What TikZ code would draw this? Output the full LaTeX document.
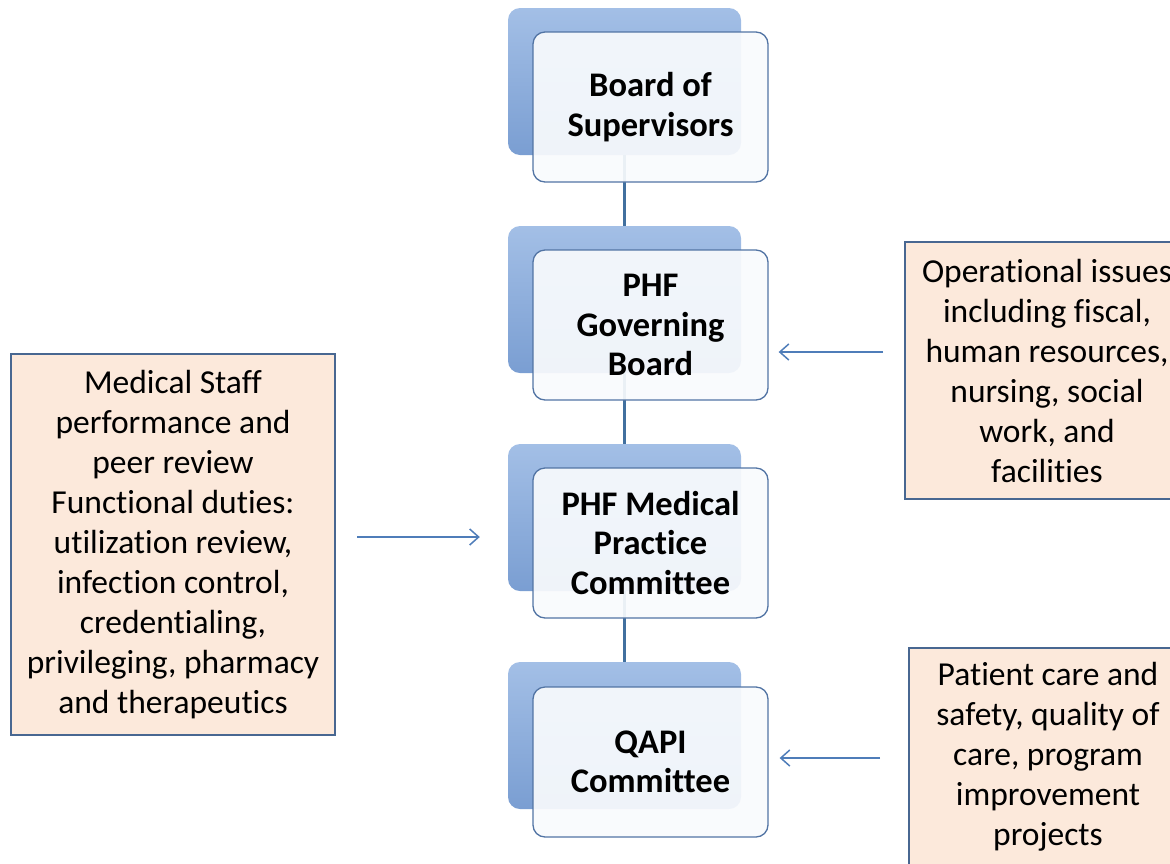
\documentclass[tikz,border=0pt]{standalone}
\usepackage{fontspec}
\setmainfont{Carlito}[RawFeature={-liga;-clig;-dlig;-calt}]
\usetikzlibrary{arrows.meta,calc}
\definecolor{backtop}{HTML}{A3BFE6}
\definecolor{backbot}{HTML}{7A9ED2}
\definecolor{frontfill}{HTML}{F9FBFD}
\definecolor{frontline}{HTML}{5274A4}
\definecolor{linkblue}{HTML}{41709F}
\definecolor{notefill}{HTML}{FCE9DB}
\definecolor{noteline}{HTML}{486791}
\definecolor{arrowblue}{HTML}{4F7DB9}
\begin{document}
\begin{tikzpicture}[x=1pt,y=-1pt,
  backbox/.style={rounded corners=12pt, minimum width=233pt, minimum height=147pt,
    top color=backtop, bottom color=backbot, draw=none, inner sep=0pt},
  frontbox/.style={rounded corners=12pt, minimum width=235pt, minimum height=150pt,
    fill=frontfill, fill opacity=0.92, text opacity=1, draw=frontline, line width=1.3pt,
    align=center, font=\bfseries\fontsize{34.5}{39.5}\selectfont, inner sep=0pt},
  note/.style={fill=notefill, draw=noteline, line width=1.8pt, align=center,
    font=\fontsize{33.5}{40}\selectfont, inner sep=0pt},
  link/.style={draw=linkblue, line width=3.5pt},
  feed/.style={draw=arrowblue, line width=1.5pt,
    -{Straight Barb[length=9pt,width=16pt,line width=1.5pt]}}
]
\useasboundingbox (0,0) rectangle (1170,863);
\clip (0,0) rectangle (1170,863);

% shaded back plates of the hierarchy
\node[backbox] (back1) at (624.5,81.5) {};
\node[backbox] (back2) at (624.5,299.5) {};
\node[backbox] (back3) at (624.5,517.5) {};
\node[backbox] (back4) at (624.5,735.5) {};

% vertical links between levels
\draw[link] (back1.south) -- (back2.north);
\draw[link] (back2.south) -- (back3.north);
\draw[link] (back3.south) -- (back4.north);

% front cards with the level names
\node[frontbox] (front1) at (650.5,107) {Board of\\Supervisors};
\node[frontbox] (front2) at (650.5,325) {PHF\\Governing\\Board};
\node[frontbox] (front3) at (650.5,543) {PHF Medical\\Practice\\Committee};
\node[frontbox] (front4) at (650.5,762) {QAPI\\Committee};

% side notes
\node[note, minimum width=284pt, minimum height=257pt] (ops) at (1047,370.5)
  {Operational issues\\including fiscal,\\human resources,\\nursing, social\\work, and\\facilities};
\node[note, minimum width=324pt, minimum height=381pt] (med) at (173,544.5)
  {Medical Staff\\performance and\\peer review\\Functional duties:\\utilization review,\\infection control,\\credentialing,\\privileging, pharmacy\\and therapeutics};
\node[note, minimum width=278pt, minimum height=218pt] (qual) at (1048,757)
  {Patient care and\\safety, quality of\\care, program\\improvement\\projects};

% feed arrows from the notes
\coordinate (opsfeed) at (883,352);
\coordinate (medfeed) at (357,537);
\coordinate (qualfeed) at (880,758);
\draw[feed] (opsfeed) -- ($(front2.east |- opsfeed)+(10,0)$);
\draw[feed] (medfeed) -- ($(back3.west |- medfeed)+(-28,0)$);
\draw[feed] (qualfeed) -- ($(front4.east |- qualfeed)+(11,0)$);
\end{tikzpicture}
\end{document}
